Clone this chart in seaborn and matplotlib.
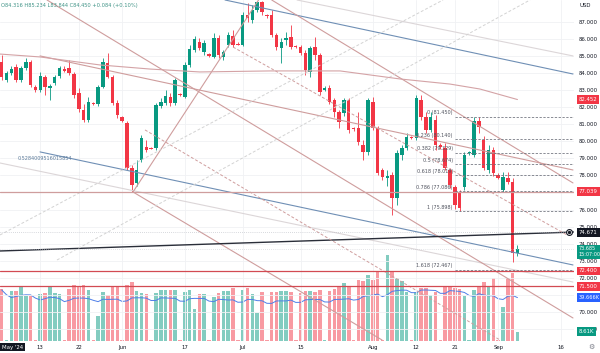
import numpy as np
import pandas as pd
import matplotlib
matplotlib.use("Agg")
import matplotlib.pyplot as plt
import matplotlib.transforms as mtransforms
import seaborn as sns

# Brent daily bars (incl. the short sunday sessions)
opens = [84.65, 83.60, 84.01, 84.36, 83.60, 84.30, 84.65, 83.19, 83.01, 83.77,
         83.13, 83.42, 83.83, 84.24, 84.30, 83.95, 82.84, 81.84, 81.25, 82.25,
         82.19, 83.19, 84.60, 83.77, 82.25, 81.43, 81.08, 78.44, 77.56, 78.91,
         79.67, 79.61, 79.61, 82.07, 82.25, 82.60, 82.25, 82.78, 82.60, 84.48,
         85.36, 85.83, 85.24, 85.12, 84.95, 86.06, 84.95, 85.65, 86.18, 85.71,
         85.65, 87.41, 87.12, 87.70, 88.17, 87.41, 87.41, 86.24, 85.47, 85.94,
         86.12, 85.59, 85.53, 85.18, 84.07, 85.53, 85.06, 83.01, 83.13, 82.43,
         81.72, 81.66, 82.43, 80.78, 80.78, 79.79, 79.38, 82.31, 80.78, 78.32,
         77.85, 78.03, 76.68, 79.20, 79.61, 80.26, 80.20, 82.43, 81.43, 80.67,
         81.25, 79.79, 79.61, 78.32, 77.32, 76.97, 77.32, 79.32, 79.20, 81.19,
         80.08, 78.32, 79.49, 78.03, 77.15, 77.85, 77.62, 73.45]
highs = [85.06, 84.13, 84.42, 84.54, 84.42, 84.89, 84.77, 83.30, 84.07, 83.89,
         83.36, 83.89, 84.42, 84.42, 84.77, 84.07, 83.13, 82.19, 82.60, 82.31,
         83.30, 84.89, 85.18, 83.89, 82.43, 81.49, 81.19, 78.61, 78.91, 80.37,
         80.08, 79.67, 82.25, 82.54, 83.01, 82.84, 83.72, 82.84, 84.65, 85.65,
         86.18, 86.06, 85.94, 85.18, 86.35, 86.24, 85.36, 86.41, 86.53, 85.83,
         87.59, 88.11, 88.00, 88.23, 88.23, 87.47, 87.70, 86.35, 86.06, 86.41,
         86.82, 85.65, 85.65, 85.36, 85.59, 86.12, 85.18, 83.25, 83.30, 82.54,
         81.84, 82.54, 82.54, 80.84, 81.72, 80.08, 82.54, 82.60, 80.90, 78.44,
         78.32, 78.20, 79.49, 79.79, 80.49, 80.31, 82.72, 82.72, 81.72, 81.72,
         81.55, 79.90, 79.90, 78.44, 77.44, 77.15, 79.38, 79.43, 81.45, 81.43,
         80.31, 79.79, 79.67, 78.14, 78.20, 78.20, 77.85, 73.92]
lows = [83.60, 83.48, 83.89, 83.48, 83.48, 84.18, 83.19, 82.89, 82.89, 82.72,
        82.43, 83.30, 83.72, 84.07, 83.89, 82.54, 81.72, 81.13, 81.13, 82.13,
        82.07, 83.13, 83.72, 82.13, 81.37, 81.13, 78.32, 77.03, 77.38, 78.79,
        79.38, 79.55, 79.49, 81.96, 82.13, 82.07, 82.13, 82.66, 82.54, 84.36,
        85.24, 85.36, 85.06, 84.95, 84.89, 84.89, 84.77, 85.53, 85.53, 85.65,
        85.59, 87.00, 86.94, 87.59, 87.41, 87.23, 86.12, 85.36, 84.60, 85.65,
        85.42, 85.47, 85.06, 83.89, 83.77, 84.77, 82.72, 82.95, 82.19, 81.43,
        80.78, 81.49, 80.49, 80.61, 79.79, 78.91, 79.20, 80.67, 78.03, 77.73,
        77.38, 75.68, 76.27, 78.91, 79.49, 80.14, 80.08, 81.25, 80.49, 80.55,
        79.49, 79.55, 78.32, 77.26, 76.05, 75.90, 77.15, 79.20, 79.08, 80.49,
        78.32, 78.14, 77.97, 77.79, 77.03, 77.50, 72.92, 73.30]
closes = [83.77, 84.01, 84.24, 83.60, 84.30, 84.65, 83.30, 83.01, 83.83, 83.19,
          83.25, 83.77, 84.30, 84.13, 84.01, 82.72, 81.90, 81.25, 82.31, 82.19,
          83.19, 84.65, 83.77, 82.25, 81.55, 81.19, 78.44, 77.44, 78.32, 80.20,
          79.49, 79.58, 82.13, 82.31, 82.66, 82.25, 83.60, 82.72, 84.48, 85.42,
          86.00, 85.47, 85.77, 85.01, 86.06, 85.06, 85.24, 86.24, 85.65, 85.68,
          87.41, 87.23, 87.70, 88.17, 87.59, 87.35, 86.24, 85.53, 85.83, 86.06,
          85.53, 85.53, 85.18, 84.18, 85.47, 85.06, 82.89, 83.13, 82.31, 81.72,
          81.13, 82.43, 80.67, 80.72, 79.96, 79.38, 82.43, 80.78, 78.14, 77.91,
          77.97, 76.68, 79.32, 79.61, 80.26, 80.20, 82.54, 81.43, 80.67, 81.43,
          79.79, 79.67, 78.44, 77.44, 76.27, 76.09, 79.20, 79.38, 81.19, 80.84,
          78.44, 79.49, 78.14, 77.85, 77.91, 77.62, 73.45, 73.685]
# volume in thousands
volumes = [47.3, 0.5, 45.8, 45.8, 49.1, 41.2, 41.2, 0.5, 42.8, 43.7,
           49.1, 43.7, 42.8, 0.5, 47.3, 51.0, 49.4, 51.0, 46.7, 0.5,
           22.8, 44.6, 41.9, 49.1, 50.3, 0.5, 51.2, 54.0, 45.5, 43.7,
           42.8, 0.5, 43.7, 46.7, 46.7, 46.7, 46.7, 0.5, 44.6, 46.4,
           29.1, 42.8, 42.8, 0.5, 40.0, 43.7, 45.8, 45.8, 48.2, 0.5,
           46.7, 48.2, 42.8, 25.5, 44.6, 0.5, 44.6, 44.9, 45.8, 45.8,
           44.6, 0.5, 43.7, 45.8, 45.8, 44.6, 46.7, 0.5, 45.8, 47.3,
           48.9, 52.5, 50.3, 0.5, 55.8, 54.3, 60.1, 55.8, 62.5, 0.5,
           78.3, 63.1, 57.1, 54.9, 44.3, 0.5, 44.6, 48.2, 48.2, 42.1,
           44.9, 0.5, 50.3, 50.3, 48.2, 47.3, 41.0, 0.5, 46.7, 48.9,
           54.0, 50.3, 57.1, 0.5, 30.7, 57.1, 61.9, 8.61]
# volume MA before a full 20 bar window exists
vol_ma_head = [46.4, 42.0, 39.5, 40.5, 41.5, 42.0, 41.9, 39.0, 37.3, 38.5,
               39.8, 39.5, 38.5, 35.8, 37.0, 38.9, 39.0, 39.0, 38.5]

tick_pos = [8, 16, 25, 38, 50, 62, 77, 86, 94, 103, 116]
tick_txt = ['13', '22', 'Jun', '17', 'Jul', '15', 'Aug', '12', '21', 'Sep', '16']
price_ticks = list(range(69, 88))

# moving average curve (bar, price)
sma_bars = [-0.35, 7.95, 20.4, 30.8, 41.1, 55.7, 70.2, 82.6, 93.0, 99.2, 107]
sma_vals = [85.12, 84.95, 84.48, 84.24, 84.07, 84.13, 84.13, 83.66, 83.36, 83.07, 82.452]

fib_levels = [0, 0.236, 0.382, 0.5, 0.618, 0.786, 1, 1.618]
fib_hi, fib_lo = 81.450, 75.898
fib_start = 94

# trendlines: bar1, price1, bar2, price2, colour, width, style
blue, pale, rosy = '#6f8fb5', '#dcd6d8', '#cf9d9d'
trend_lines = [
    (46.33, 88.29, 118.52, 83.95, blue, 0.8, '-'),
    (7.95, 79.38, 118.52, 72.75, blue, 0.8, '-'),
    (61.27, 88.29, 118.52, 85.01, pale, 0.8, '-'),
    (-0.35, 78.73, 118.52, 71.75, pale, 0.8, '-'),
    (9.40, 88.29, 118.52, 69.64, rosy, 0.8, '-'),
    (56.02, 88.29, 118.52, 77.56, rosy, 0.8, '-'),
    (7.95, 85.01, 118.52, 78.32, rosy, 0.8, '-'),
    (27.24, 77.03, 53.28, 88.29, rosy, 0.8, '-'),
    (27.24, 77.03, 78.90, 68.35, rosy, 0.8, '-'),
    (-0.35, 73.57, 118.73, 74.68, '#2a2e39', 1.0, '-'),
    (48.0, 85.53, 117.28, 74.51, rosy, 0.7, (0, (3, 2))),
    (29.73, 80.67, 103.38, 68.35, rosy, 0.7, (0, (3, 2))),
    (-0.35, 74.51, 91.56, 88.29, '#d3d3d3', 0.7, (0, (3, 2))),
    (11.47, 73.04, 109.6, 88.29, '#d3d3d3', 0.7, (0, (3, 2))),
]
h_levels = [77.039, 72.400, 71.500]
h_colors = [rosy, '#d24a52', '#d24a52']

sns.set_theme(style="white")
plt.rcParams['font.family'] = ['DejaVu Sans']

green, red = '#089981', '#f23645'
x = np.arange(len(closes))
up = np.array(closes) >= np.array(opens)
cols = np.where(up, green, red)
vcols = np.where(up, '#83ccc0', '#f89aa2')

fig = plt.figure(figsize=(6, 3.53), dpi=100)
rect = [0, 12 / 353, 574 / 600, 341 / 353]
ax_vol = fig.add_axes(rect)
ax = fig.add_axes(rect, sharex=ax_vol)
ax.patch.set_visible(False)

# volume pane
ax_vol.bar(x, volumes, width=0.74, color=vcols, linewidth=0)
ma = pd.Series(volumes).rolling(20).mean()
ma.iloc[:len(vol_ma_head)] = vol_ma_head
sns.lineplot(x=x, y=ma.values, ax=ax_vol, color='#4f7fe8', linewidth=0.7)
ax_vol.set_ylim(0, 310)
ax_vol.set_axis_off()

# grid
for v in tick_pos:
    ax.axvline(v, color='#f0f1f4', lw=0.6, zorder=0)
for p in price_ticks:
    ax.axhline(p, color='#f0f1f4', lw=0.6, zorder=0)

# candles
ax.vlines(x, lows, highs, colors=cols, lw=0.6, zorder=2)
body_lo = np.minimum(opens, closes)
body_h = np.maximum(np.abs(np.array(closes) - np.array(opens)), 0.04)
ax.bar(x, body_h, bottom=body_lo, width=0.72, color=cols, linewidth=0, zorder=3)

# drawings
for x1, y1, x2, y2, c, w, ls in trend_lines:
    ax.plot([x1, x2], [y1, y2], color=c, lw=w, ls=ls, zorder=4)
for lv, c in zip(h_levels, h_colors):
    ax.axhline(lv, color=c, lw=0.9, zorder=4)
ax.axhline(74.671, color='#b2b5be', lw=0.5, ls=(0, (1, 2)), zorder=4)
ax.axhline(73.685, color='#c8cad0', lw=0.5, ls=(0, (1, 2)), zorder=4)
sns.lineplot(x=sma_bars, y=sma_vals, ax=ax, color='#d4a3a6', linewidth=0.8, zorder=4)

fib_rng = fib_hi - fib_lo
for f in fib_levels:
    lv = fib_hi - f * fib_rng
    ax.plot([fib_start, 118.73], [lv, lv], color='#6a6d78', lw=0.55,
            ls=(0, (3, 2)), zorder=5)
    lbl = f"{f:g} ({lv:.3f})"
    ax.text(fib_start - 0.4, lv + 0.08, lbl, ha='right', va='bottom',
            fontsize=3.5, color='#50535e', zorder=6)
ax.text(3.2, 78.97, '0.5284009516015854', ha='left', va='center',
        fontsize=3.5, color='#5b7a99', zorder=6)

ax.set_xlim(-0.353, 118.73)
ax.set_ylim(68.29, 88.29)
ax.set_xticks(tick_pos)
ax.set_xticklabels(tick_txt)
ax.set_yticks(price_ticks)
ax.set_yticklabels([f"{p:.3f}" for p in price_ticks])
ax.yaxis.tick_right()
ax.tick_params(axis='y', length=0, labelsize=3.9, colors='#131722', pad=3.6)
ax.tick_params(axis='x', length=0, labelsize=3.9, colors='#131722', pad=3)
ax.grid(False)
for s in ax.spines.values():
    s.set_visible(False)

price_tr = ax.get_yaxis_transform()
vol_tr = mtransforms.blended_transform_factory(ax.transAxes, ax_vol.transData)


def tag(value, text, fc, trans, dy=0, size=3.9):
    ax.annotate(text, xy=(1.0085, value), xycoords=trans,
                xytext=(0, dy), textcoords='offset points',
                ha='left', va='center', fontsize=size, color='white',
                bbox=dict(boxstyle='square,pad=0.35', fc=fc, ec='none'),
                annotation_clip=False, zorder=10)


tag(82.452, '82.452', red, price_tr)
tag(77.039, '77.039', red, price_tr)
tag(74.671, '74.671', '#131722', price_tr)
tag(73.685, '73.685\n15:07:00', green, price_tr, dy=-2.0, size=3.5)
tag(72.400, '72.400', red, price_tr)
tag(71.500, '71.500', red, price_tr)
tag(39.666, '39.666K', '#2962ff', vol_tr, size=3.6)
tag(8.61, '8.61K', green, vol_tr)

ax.plot([0.991], [74.671], marker='o', ms=4.2, mfc='white', mec='#131722', mew=0.8,
        transform=price_tr, clip_on=False, zorder=11)
ax.plot([0.991], [74.671], marker='o', ms=1.4, color='#131722',
        transform=price_tr, clip_on=False, zorder=12)

fig.text(0.001, 1 - 5.5 / 353, "O84.316 H85.234 L83.844 C84.450 +0.084 (+0.10%)",
         fontsize=3.7, color='#3f9386', ha='left', va='center')
fig.text(580 / 600, 1 - 5.5 / 353, "USD", fontsize=3.9, color='#131722',
         ha='left', va='center')
fig.text(2 / 600, 1 - 347 / 353, "May '24", fontsize=3.9, color='white',
         ha='left', va='center',
         bbox=dict(boxstyle='square,pad=0.35', fc='#131722', ec='none'))
fig.text(591 / 600, 1 - 347 / 353, "\u2699", fontsize=5, color='#787b86',
         ha='center', va='center')

fig.savefig('out.png', dpi=100)
